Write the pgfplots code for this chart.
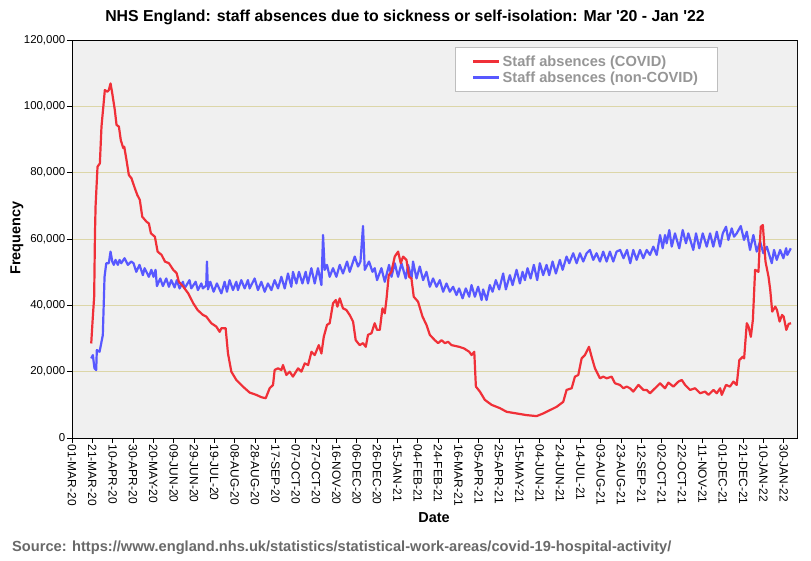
\documentclass[border=0pt]{standalone}
\usepackage{pgfplots}
\pgfplotsset{compat=1.18}
\usepackage{pgfplotstable}
\usepackage{fontspec}
\setmainfont{Liberation Sans}
\definecolor{covid}{RGB}{240,48,56}
\definecolor{noncovid}{RGB}{88,88,255}
\definecolor{bgc}{RGB}{240,240,240}
\definecolor{gridc}{RGB}{220,214,168}
\definecolor{srcgray}{RGB}{105,105,105}
\definecolor{leggray}{RGB}{150,150,150}
\definecolor{legbord}{RGB}{190,190,190}

\pgfplotstableread{
d v
18.9 28500
20.5 36600
21.8 42600
22.6 61800
23.2 70000
25.1 81800
27.4 82800
29.0 93900
32.3 104900
34.9 104400
36.2 104900
37.9 106900
39.6 103900
42.1 98900
43.8 94400
46.1 93900
48.0 89800
50.4 87400
51.4 87800
53.6 83800
55.9 79300
58.5 78300
61.8 75300
64.2 73300
66.7 71800
69.1 66700
73.3 65200
75.6 64700
77.6 61700
81.5 60700
84.2 56200
88.1 55200
91.4 53200
95.3 52700
99.6 50700
102.9 49700
105.1 47100
109.5 45600
114.3 43600
119.3 40600
123.5 38600
128.8 37100
132.1 36600
137.0 34600
141.9 33600
145.2 32000
146.9 33100
151.1 33100
153.4 25500
156.7 20000
161.6 17500
168.1 15500
174.7 13700
181.3 13000
186.2 12300
190.5 12000
194.4 15000
197.7 16000
199.3 20500
202.6 21000
205.9 20500
207.5 22000
210.8 19000
214.1 20000
217.3 18500
222.3 21000
225.6 20000
228.9 22500
232.2 22000
235.5 26000
238.7 25000
242.7 28000
245.3 25500
247.6 30500
250.8 34100
253.4 34600
256.7 40600
259.4 41600
261.0 39600
263.3 42100
266.5 39100
269.8 38600
273.1 37100
276.4 35100
279.0 29500
282.9 28000
286.2 28600
288.9 27500
291.1 31100
294.5 31600
297.7 34600
300.0 32600
302.7 32600
305.3 39100
307.6 37600
309.2 41600
311.5 49100
314.1 50100
317.4 54700
320.7 56200
323.3 52700
325.6 54700
328.9 53700
331.5 48600
333.8 48100
336.1 42600
340.3 41100
344.7 36600
348.6 34100
351.9 31100
356.8 29500
360.1 28600
363.4 29500
366.7 28600
369.9 29000
373.3 28000
380.7 27500
385.6 27000
390.6 26000
393.0 25000
395.6 26000
397.2 15500
401.1 14000
406.0 11500
412.6 10000
420.8 9000
427.4 7900
437.2 7400
447.1 6900
456.9 6600
463.4 7400
470.0 8400
476.6 9400
483.1 10900
486.4 14500
491.4 15000
494.6 18500
497.9 19000
501.2 24000
504.4 25000
508.4 27500
511.0 24500
514.3 21000
519.2 18000
522.5 18500
525.8 18000
530.7 18500
534.0 16500
538.9 16000
542.2 15000
545.5 15500
548.7 15000
552.0 14000
557.0 16000
561.9 14500
565.2 14500
568.4 13500
573.4 15000
578.3 16500
583.2 15000
586.5 16700
591.4 15500
596.4 17000
599.7 17500
602.9 16000
607.8 14500
612.8 15000
617.7 13500
622.6 14000
625.9 13000
630.8 14500
634.1 13500
637.4 15000
639.0 13000
643.2 16000
647.1 15500
650.4 17000
653.7 16000
656.3 23500
659.7 24500
661.0 24000
663.6 34600
665.3 33600
667.6 30500
669.6 35600
671.8 50700
675.1 50100
676.1 56700
677.4 63700
679.4 64200
680.7 58700
682.0 53200
685.0 48600
686.7 44600
688.6 38100
691.6 39600
693.3 38600
695.9 35100
698.3 37100
699.9 36600
702.5 32600
704.8 34400
707.1 34600
}\covidtab

\pgfplotstableread{
d v
18.9 24000
20.5 25000
22.1 21000
23.8 20500
24.4 26500
27.1 26000
30.3 31000
32.0 48600
33.7 52700
36.2 52700
37.9 56200
39.6 53200
41.1 52200
42.8 53700
45.1 52200
46.8 53700
48.4 52700
51.7 54200
54.9 52200
58.3 53200
60.5 52700
63.2 50100
66.4 52200
69.7 49100
71.4 51200
75.6 48600
78.0 50700
80.2 48600
82.2 50700
83.5 45800
86.8 48100
89.4 45800
92.7 48100
95.3 45600
97.6 47600
100.9 45400
103.1 47600
105.8 45100
109.1 47100
110.7 45100
115.6 47600
117.3 45100
121.6 47100
123.8 44600
127.2 46600
128.7 45100
132.0 46000
132.7 53200
133.7 44800
136.0 47100
139.3 44100
142.5 46600
146.9 43600
150.1 47100
152.4 44100
155.0 47600
158.3 44600
161.6 47100
163.2 44600
166.5 47600
169.8 45100
173.0 47600
174.7 45100
179.6 48100
182.9 44600
186.2 47100
189.5 44100
192.7 46600
196.1 44600
199.3 47600
202.6 45100
205.9 48600
209.2 45100
212.4 49600
215.7 45600
217.3 50100
220.7 46600
223.2 50100
226.6 46600
229.8 50100
232.1 46600
235.4 51200
238.7 46600
241.9 51200
245.3 46100
246.9 61200
248.5 50700
250.8 52200
253.4 48600
256.7 51200
260.0 48600
263.3 52200
266.5 49600
270.5 53200
273.1 50100
278.1 54700
281.3 51700
283.7 53200
286.2 63900
287.9 50700
292.1 53200
295.5 50100
297.7 51200
300.0 47600
304.3 51200
307.6 47100
311.8 52200
314.2 48600
317.4 52700
320.7 48600
324.0 52700
328.2 48100
330.5 52200
333.9 48100
335.4 53200
338.8 48100
342.0 51700
345.3 47600
348.6 50100
351.9 45600
355.1 48100
358.5 45600
361.7 47600
365.0 44100
368.3 46600
371.6 44100
374.8 45600
378.1 43100
380.7 45100
384.1 42100
387.3 45100
390.6 42600
392.9 46100
396.2 42600
399.4 45600
402.8 41600
404.3 44800
407.7 41600
410.9 46100
413.6 44100
416.8 47600
420.1 44800
424.0 49600
426.7 44800
430.6 49100
433.3 46100
437.2 50700
440.5 46600
443.1 50100
445.4 47600
448.0 51200
451.0 48100
454.2 52200
457.5 47600
460.1 52700
463.4 49100
466.7 52200
469.3 49100
472.6 53200
475.9 49600
479.8 53700
482.5 50700
486.4 54700
489.0 52700
492.9 55700
496.3 52700
499.5 55700
502.8 53200
506.1 55700
509.4 56700
512.6 53700
515.9 55700
519.2 53200
522.4 56200
525.8 53200
529.0 56200
532.3 53200
535.6 56200
539.1 56700
542.4 54200
545.8 56700
549.0 52700
552.0 56700
555.3 53700
558.6 56700
561.8 54200
565.2 56700
568.4 55200
571.7 57700
575.0 55200
578.3 61200
580.9 57200
583.2 61200
584.8 58700
587.4 62700
589.8 57700
593.0 61700
597.2 57200
600.6 62700
603.8 58700
606.1 61700
611.0 56700
613.7 61700
616.9 57200
620.3 61700
624.2 57700
627.5 61700
630.7 57700
634.1 62200
637.3 57700
640.0 61700
643.2 63700
645.5 59700
648.8 63200
651.1 60700
653.7 61700
657.7 63900
660.9 59700
663.6 62200
666.8 56700
670.1 61200
673.4 56200
676.7 59200
679.9 55700
683.3 57700
688.2 52700
690.4 56700
693.1 53700
696.4 56700
699.6 54200
702.3 57200
703.5 55200
706.9 57200
}\noncovidtab

\begin{document}
\begin{tikzpicture}
\useasboundingbox (0,0) rectangle (811bp,561bp);
\begin{axis}[
  at={(72bp,123bp)}, anchor=south west,
  width=725bp, height=398bp, scale only axis,
  xmin=0, xmax=713, ymin=0, ymax=120000,
  axis background/.style={fill=bgc},
  axis line style={black, line width=0.8bp},
  ymajorgrids, grid style={gridc, line width=0.9bp},
  scaled y ticks=false,
  ytick={0,20000,40000,60000,80000,100000,120000},
  yticklabels={0,{20,000},{40,000},{60,000},{80,000},{100,000},{120,000}},
  yticklabel style={font=\fontsize{11.5}{13}\selectfont, inner sep=1.5bp},
  xtick={0,20,...,700},
  xticklabels={01-MAR-20,21-MAR-20,10-APR-20,30-APR-20,20-MAY-20,09-JUN-20,29-JUN-20,19-JUL-20,08-AUG-20,28-AUG-20,17-SEP-20,07-OCT-20,27-OCT-20,16-NOV-20,06-DEC-20,26-DEC-20,15-JAN-21,04-FEB-21,24-FEB-21,16-MAR-21,05-APR-21,25-APR-21,15-MAY-21,04-JUN-21,24-JUN-21,14-JUL-21,03-AUG-21,23-AUG-21,12-SEP-21,02-OCT-21,22-OCT-21,11-NOV-21,01-DEC-21,21-DEC-21,10-JAN-22,30-JAN-22},
  xticklabel style={rotate=-90, anchor=west, font=\fontsize{12}{13}\selectfont, inner sep=1.5bp},
  xtick pos=bottom, ytick pos=left,
  tick align=outside, major tick length=5bp,
  tick style={black, line width=0.8bp},
  legend style={at={(0.528,0.982)}, anchor=north west, draw=legbord, line width=0.8bp, fill=white,
    font=\bfseries\fontsize{14.7}{17}\selectfont\color{leggray}, inner xsep=17bp, inner ysep=6bp},
  legend cell align=left,
  legend image code/.code={\draw[#1, line width=2.5bp] (0bp,0bp) -- (26bp,0bp);},
  reverse legend,
]
\addplot[noncovid, line width=2.2bp, line join=round] table[x=d, y=v] {\noncovidtab};
\addlegendentry{Staff absences (non-COVID)}
\addplot[covid, line width=2.2bp, line join=round] table[x=d, y=v] {\covidtab};
\addlegendentry{Staff absences (COVID)}
\draw[gray, line width=1bp] (rel axis cs:1,0) -- (rel axis cs:1,1);
\end{axis}
\node[font=\bfseries\fontsize{15.9}{18}\selectfont] at (405bp,544bp) {NHS England: staff absences due to sickness or self-isolation: Mar \textquotesingle20 - Jan \textquotesingle22};
\node[rotate=90, font=\bfseries\fontsize{14.5}{17}\selectfont] at (17bp,323bp) {Frequency};
\node[font=\bfseries\fontsize{14.5}{17}\selectfont] at (434bp,43bp) {Date};
\node[anchor=west, inner sep=0pt, text=srcgray, font=\bfseries\fontsize{14.7}{17}\selectfont] at (12bp,13bp) {Source: https://www.england.nhs.uk/statistics/statistical-work-areas/covid-19-hospital-activity/};
\end{tikzpicture}
\end{document}
